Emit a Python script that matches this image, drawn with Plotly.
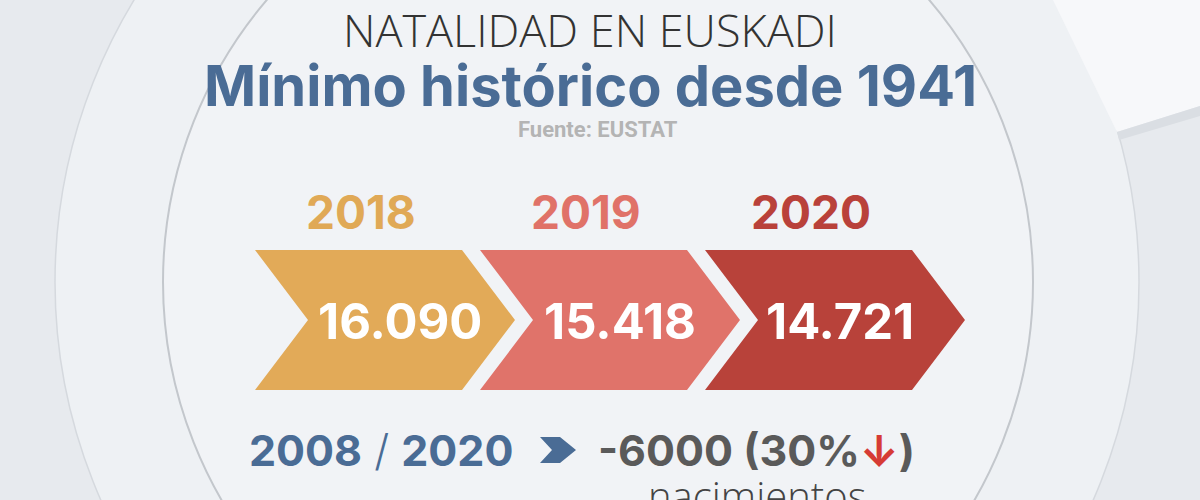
import plotly.graph_objects as go

# Nacimientos en Euskadi (EUSTAT)
years = ["2018", "2019", "2020"]
births = [16090, 15418, 14721]
year_colors = ["#e0a956", "#e07268", "#b9413a"]
chevron_colors = ["#e2aa58", "#e0736a", "#b8423a"]

period_label = "2008 / 2020"
drop_births = -6000
drop_pct = 30

title_top = "NATALIDAD EN EUSKADI"
title_main = "Mínimo histórico desde 1941"
source = "Fuente: EUSTAT"

BLUE = "#4a6c95"
GRAY = "#5a5a5a"

# geometria de las flechas (pixeles del lienzo 1200x500)
X0, STEP, W, D = 255, 225, 207, 53
TOP, MID, BOT = 250, 320, 390


def fmt(n):
    return f"{n:,}".replace(",", ".")


fig = go.Figure()

# fondo: anillos circulares
shapes = [
    dict(type="rect", x0=0, x1=1200, y0=0, y1=500, fillcolor="#e7eaee", line_width=0, layer="below"),
    dict(type="circle", x0=55, x1=1139, y0=-260, y1=824, fillcolor="#eef1f4",
         line=dict(color="#d5d9de", width=1.5), layer="below"),
    dict(type="path", path="M 1053 0 L 1117 132 L 1200 106 L 1200 0 Z",
         fillcolor="#f7f8fa", line_width=0, layer="below"),
    dict(type="path", path="M 1117 132 L 1200 106 L 1200 116 L 1119 140 Z",
         fillcolor="#dadee3", line_width=0, layer="below"),
    dict(type="circle", x0=163, x1=1033, y0=-153, y1=717, fillcolor="#f1f3f6",
         line=dict(color="#c3c7cc", width=2), layer="below"),
]

# flechas de cada año
for i, (yr, val) in enumerate(zip(years, births)):
    left = X0 + i * STEP
    xs = [left, left + W, left + W + D, left + W, left, left + D, left]
    ys = [TOP, TOP, MID, BOT, BOT, MID, TOP]
    fig.add_trace(go.Scatter(x=xs, y=ys, fill="toself", mode="lines",
                             fillcolor=chevron_colors[i], line=dict(width=0),
                             hoverinfo="skip", showlegend=False))
    fig.add_annotation(x=left + W / 2 + 2, y=212, text=f"<b>{yr}</b>", showarrow=False,
                       font=dict(family="Inter", size=46, color=year_colors[i]))
    fig.add_annotation(x=left + 145 - 5 * i, y=321, text=f"<b>{fmt(val)}</b>", showarrow=False,
                       font=dict(family="Inter", size=49, color="white"))

# flecha azul pequeña
fig.add_trace(go.Scatter(x=[540, 560, 576, 560, 540, 552, 540],
                         y=[437, 437, 450, 463, 463, 450, 437],
                         fill="toself", mode="lines", fillcolor=BLUE, line=dict(width=0),
                         hoverinfo="skip", showlegend=False))

a, b = period_label.split(" / ")
fig.add_annotation(x=381, y=450, text=f"<b>{a}</b> <span style='font-weight:300'>/</span> <b>{b}</b>",
                   showarrow=False, font=dict(family="Inter", size=43, color=BLUE))
fig.add_annotation(x=756, y=450,
                   text=f"<b>{drop_births} ({drop_pct}%</b><span style='color:#d63b35'><b>↓</b></span><b>)</b>",
                   showarrow=False, font=dict(family="Inter", size=43, color=GRAY))
fig.add_annotation(x=757, y=495, text="nacimientos", showarrow=False,
                   font=dict(family="Open Sans", size=40, color="#444444", weight=300))

# titulos
fig.add_annotation(x=590, y=29, text=title_top, showarrow=False,
                   font=dict(family="Open Sans", size=45, color="#333333", weight=300))
fig.add_annotation(x=590, y=86, text=f"<b>{title_main}</b>", showarrow=False,
                   font=dict(family="Inter", size=56, color=BLUE))
fig.add_annotation(x=598, y=129, text=f"<b>{source}</b>", showarrow=False,
                   font=dict(family="Roboto", size=22, color="#b4b4b4"))

fig.update_layout(
    width=1200, height=500,
    margin=dict(l=0, r=0, t=0, b=0),
    paper_bgcolor="#e7eaee", plot_bgcolor="#e7eaee",
    shapes=shapes,
    xaxis=dict(range=[0, 1200], visible=False, fixedrange=True),
    yaxis=dict(range=[500, 0], visible=False, fixedrange=True),
    showlegend=False,
)

fig.write_html("out.html", config={"displayModeBar": False},
               post_script="document.body.style.margin='0';")
